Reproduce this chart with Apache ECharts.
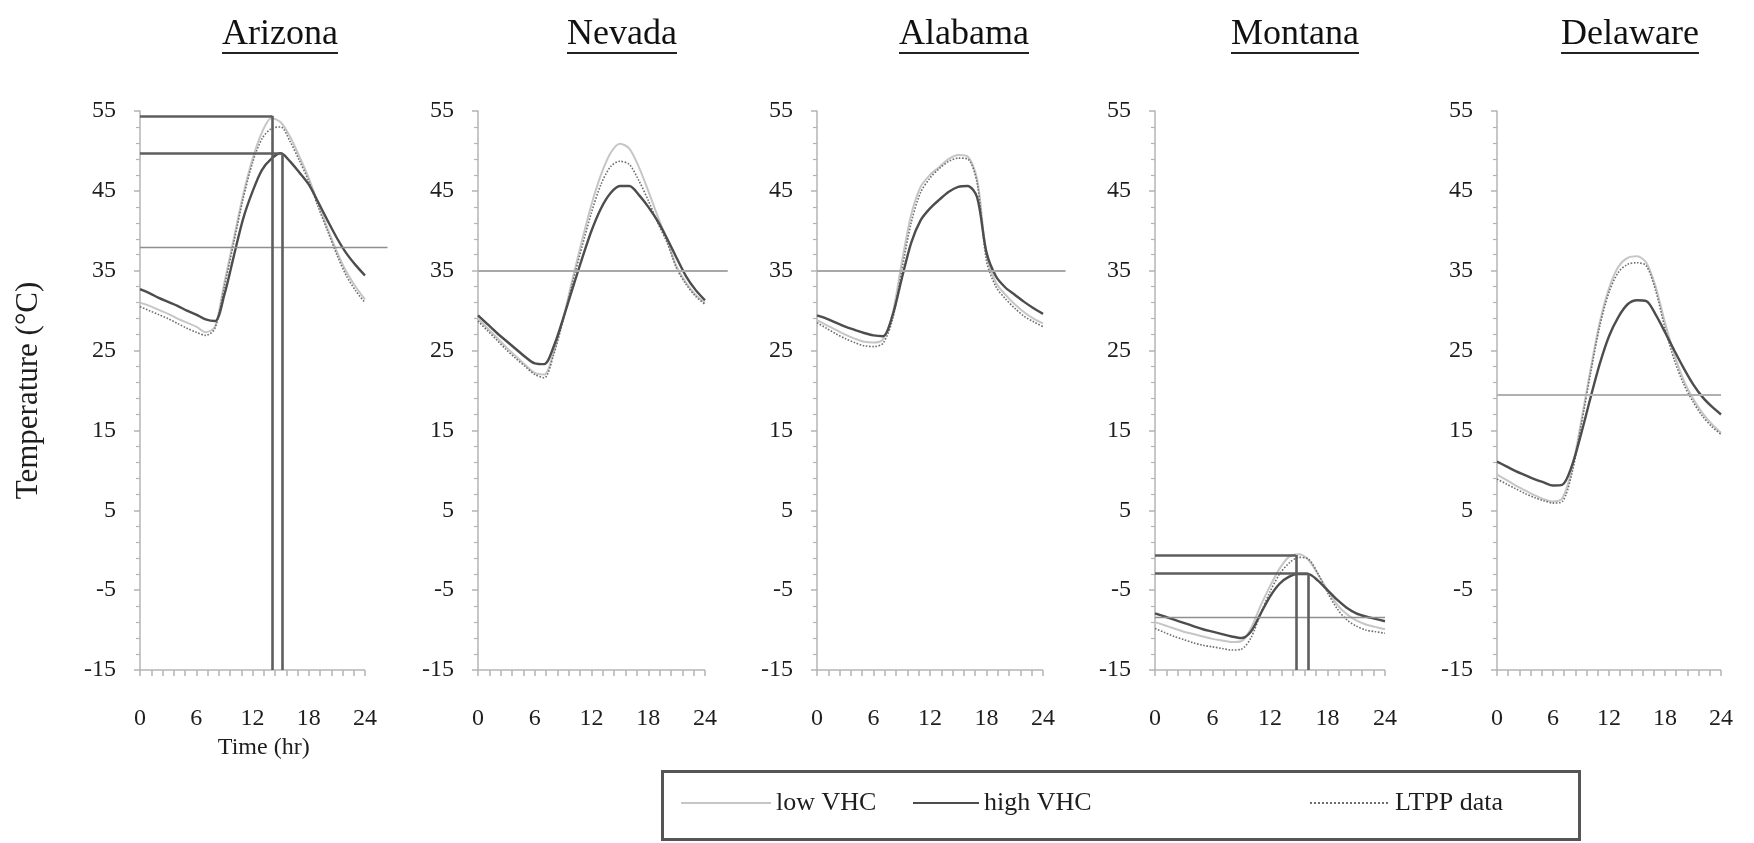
<!DOCTYPE html>
<html>
<head>
<meta charset="utf-8">
<script src="https://cdn.jsdelivr.net/npm/echarts@6/dist/echarts.min.js"></script>
<style>
  html, body { margin: 0; padding: 0; background: #fff; }
  #chart { width: 1754px; height: 843px; }
</style>
</head>
<body>
<div id="chart"></div>
<script>
// ---- data ---------------------------------------------------------------
const hours = [0, 1, 2, 3, 4, 5, 6, 7, 8, 9, 10, 11, 12, 13, 14, 15, 16, 17, 18, 19, 20, 21, 22, 23, 24];

const states = ['Arizona', 'Nevada', 'Alabama', 'Montana', 'Delaware'];

const arizonaLow  = [31.0, 30.6, 30.1, 29.6, 29.0, 28.5, 28.0, 27.3, 28.0, 33.5, 39.0, 44.5, 49.0, 52.3, 54.1, 53.6, 51.8, 49.3, 46.6, 43.4, 40.3, 37.4, 34.9, 33.0, 31.4];
const arizonaHigh = [32.7, 32.2, 31.6, 31.1, 30.6, 30.0, 29.5, 28.9, 28.7, 32.0, 36.8, 41.5, 44.9, 47.6, 49.0, 49.7, 48.7, 47.3, 45.8, 43.6, 41.3, 39.1, 37.2, 35.7, 34.4];
const arizonaLTPP = [30.5, 30.0, 29.5, 29.0, 28.4, 27.8, 27.3, 26.9, 27.8, 33.0, 38.5, 44.0, 48.5, 51.5, 52.8, 53.0, 51.2, 48.8, 46.2, 43.0, 40.0, 37.0, 34.4, 32.5, 31.0];

const nevadaLow  = [29.0, 27.8, 26.6, 25.4, 24.3, 23.2, 22.2, 22.0, 24.8, 29.0, 34.0, 38.8, 43.3, 47.0, 49.7, 50.9, 50.3, 48.0, 45.0, 41.8, 38.8, 35.5, 33.5, 32.0, 31.0];
const nevadaHigh = [29.4, 28.3, 27.2, 26.2, 25.2, 24.2, 23.4, 23.3, 25.5, 29.0, 32.8, 36.5, 40.0, 42.8, 44.7, 45.6, 45.6, 44.5, 43.0, 41.2, 39.0, 36.6, 34.3, 32.6, 31.3];
const nevadaLTPP = [28.7, 27.5, 26.3, 25.1, 24.0, 23.0, 22.0, 21.6, 24.5, 28.8, 33.5, 38.0, 42.3, 45.8, 48.0, 48.7, 48.3, 46.3, 43.8, 41.0, 38.5, 35.3, 33.3, 31.8, 30.8];

const alabamaLow  = [28.8, 28.2, 27.6, 27.0, 26.5, 26.1, 26.0, 26.4, 29.5, 36.0, 42.0, 45.5, 47.0, 48.0, 49.0, 49.5, 49.3, 46.5, 37.0, 33.5, 32.0, 30.8, 29.8, 29.0, 28.4];
const alabamaHigh = [29.4, 29.0, 28.5, 28.0, 27.6, 27.2, 26.9, 26.8, 29.3, 34.0, 38.5, 41.3, 42.8, 43.9, 44.9, 45.5, 45.6, 44.2, 37.3, 34.3, 32.9, 32.0, 31.1, 30.3, 29.6];
const alabamaLTPP = [28.5, 27.8, 27.1, 26.5, 26.0, 25.6, 25.5, 25.9, 28.8, 35.0, 41.0, 44.8, 46.6, 47.8, 48.7, 49.1, 49.0, 46.0, 36.2, 33.0, 31.5, 30.3, 29.3, 28.6, 28.0];

const montanaLow  = [-9.0, -9.4, -9.8, -10.2, -10.5, -10.8, -11.1, -11.3, -11.5, -11.4, -9.8, -7.0, -4.5, -2.3, -0.8, -0.5, -1.2, -3.0, -5.0, -6.8, -8.0, -8.8, -9.3, -9.6, -9.9];
const montanaHigh = [-7.9, -8.3, -8.7, -9.1, -9.5, -9.9, -10.2, -10.5, -10.8, -11.0, -10.2, -8.0, -5.8, -4.2, -3.3, -3.0, -3.0, -3.8, -5.0, -6.2, -7.2, -7.9, -8.3, -8.6, -8.9];
const montanaLTPP = [-9.8, -10.3, -10.8, -11.2, -11.6, -11.9, -12.1, -12.3, -12.5, -12.4, -11.0, -8.0, -5.2, -3.0, -1.6, -0.9, -1.1, -2.9, -5.3, -7.3, -8.7, -9.5, -10.0, -10.2, -10.4];

const delawareLow  = [9.5, 8.8, 8.1, 7.5, 6.9, 6.4, 6.1, 6.5, 10.0, 16.0, 22.5, 28.5, 32.8, 35.5, 36.6, 36.8, 36.0, 33.0, 28.5, 24.5, 21.3, 19.0, 17.2, 15.8, 14.7];
const delawareHigh = [11.1, 10.5, 9.9, 9.4, 8.9, 8.5, 8.1, 8.2, 10.5, 14.5, 19.0, 23.3, 26.8, 29.2, 30.8, 31.3, 31.2, 29.5, 27.3, 25.0, 22.8, 20.8, 19.2, 18.0, 17.0];
const delawareLTPP = [8.9, 8.3, 7.7, 7.1, 6.6, 6.2, 5.9, 6.1, 9.5, 15.5, 22.0, 28.0, 32.3, 34.8, 35.8, 36.0, 35.6, 32.5, 27.8, 23.8, 20.8, 18.6, 16.8, 15.5, 14.5];

const lowSeries  = [arizonaLow, nevadaLow, alabamaLow, montanaLow, delawareLow];
const highSeries = [arizonaHigh, nevadaHigh, alabamaHigh, montanaHigh, delawareHigh];
const ltppSeries = [arizonaLTPP, nevadaLTPP, alabamaLTPP, montanaLTPP, delawareLTPP];

// daily mean temperature of each site
const meanTemps = [38.0, 35.0, 35.0, -8.4, 19.5];

// daily maxima marked with drop lines (low VHC first, high VHC second)
const arizonaPeakHours = [14.1, 15.2];
const arizonaPeakTemps = [54.4, 49.7];
const montanaPeakHours = [14.7, 16.0];
const montanaPeakTemps = [-0.6, -2.9];

const xTickValues  = [0, 1.2, 2.4, 3.6, 4.8, 6, 7.2, 8.4, 9.6, 10.8, 12, 13.2, 14.4, 15.6, 16.8, 18, 19.2, 20.4, 21.6, 22.8, 24];
const xLabelValues = [0, 6, 12, 18, 24];
const yMin = -15, yMax = 55, yStep = 10;

const legendNames = ['low VHC', 'high VHC', 'LTPP data'];

// ---- layout -------------------------------------------------------------
const FONT = '"Liberation Serif", "Times New Roman", serif';
const gridTop = 111, gridBottom = 173;
const panelLeft    = [140, 478, 817, 1155, 1497];
const panelWidth24 = [225, 227, 226, 230, 224];   // width of the 0–24 h span
const panelXMax    = [26.4, 26.4, 26.4, 24, 24];
const titleCenter  = [280, 622, 964, 1295, 1630];

const axisGrey = '#b4b4b4';
const lowStyle  = { color: '#c6c6c6', width: 2, type: 'solid' };
const highStyle = { color: '#4d4d4d', width: 2.4, type: 'solid' };
const ltppStyle = { color: '#6e6e6e', width: 1.6, type: 'dotted' };
const meanStyles = [
  { color: '#8f8f8f', width: 1.4, type: 'solid' },
  { color: '#a8a8a8', width: 2, type: 'solid' },
  { color: '#a8a8a8', width: 2, type: 'solid' },
  { color: '#8f8f8f', width: 1.4, type: 'solid' },
  { color: '#b0b0b0', width: 2.2, type: 'solid' }
];

const chart = echarts.init(document.getElementById('chart'), null, { renderer: 'canvas' });

const grids = [], xAxes = [], yAxes = [], series = [];

states.forEach((state, i) => {
  const w = panelWidth24[i] * panelXMax[i] / 24;
  grids.push({ left: panelLeft[i], top: gridTop, width: w, bottom: gridBottom, containLabel: false });

  xAxes.push({
    gridIndex: i, type: 'value', min: 0, max: panelXMax[i],
    axisLine: { show: false, onZero: false },
    axisTick: { show: true, customValues: xTickValues, length: 6, lineStyle: { color: axisGrey, width: 1.5 } },
    axisLabel: { customValues: xLabelValues, margin: 37, fontFamily: FONT, fontSize: 24, color: '#1e1e1e' },
    splitLine: { show: false },
    name: i === 0 ? 'Time (hr)' : '',
    nameLocation: 'middle', nameGap: 64,
    nameTextStyle: { fontFamily: FONT, fontSize: 24, color: '#1e1e1e' }
  });

  yAxes.push({
    gridIndex: i, type: 'value', min: yMin, max: yMax, interval: yStep,
    axisLine: { show: true, onZero: false, lineStyle: { color: axisGrey, width: 1.5 } },
    axisTick: { show: true, length: 6, lineStyle: { color: axisGrey, width: 1.5 } },
    minorTick: { show: true, splitNumber: 5, length: 4, lineStyle: { color: axisGrey, width: 1.2 } },
    axisLabel: { margin: 24, fontFamily: FONT, fontSize: 24, color: '#1e1e1e' },
    splitLine: { show: false },
    minorSplitLine: { show: false },
    name: i === 0 ? 'Temperature (°C)' : '',
    nameLocation: 'middle', nameRotate: 90, nameGap: 96,
    nameTextStyle: { fontFamily: FONT, fontSize: 31, color: '#1e1e1e' }
  });

  const pts = arr => hours.map((h, k) => [h, arr[k]]);

  // reference lines: x baseline, daily mean, and peak drop lines
  const marks = [
    [{ coord: [0, yMin], lineStyle: { color: axisGrey, width: 1.5, type: 'solid' } }, { coord: [24, yMin] }],
    [{ coord: [0, meanTemps[i]], lineStyle: meanStyles[i] }, { coord: [panelXMax[i], meanTemps[i]] }]
  ];
  let peakH = null, peakT = null;
  if (state === 'Arizona') { peakH = arizonaPeakHours; peakT = arizonaPeakTemps; }
  if (state === 'Montana') { peakH = montanaPeakHours; peakT = montanaPeakTemps; }
  if (peakH) {
    peakH.forEach((h, k) => {
      const ls = { color: '#5e5e5e', width: 2.6, type: 'solid' };
      marks.push([{ coord: [0, peakT[k]], lineStyle: ls }, { coord: [h, peakT[k]] }]);
      marks.push([{ coord: [h, peakT[k]], lineStyle: ls }, { coord: [h, yMin] }]);
    });
  }

  series.push({
    type: 'line', name: 'LTPP data', xAxisIndex: i, yAxisIndex: i,
    data: pts(ltppSeries[i]), smooth: 0.3, symbol: 'none',
    lineStyle: ltppStyle, itemStyle: { color: ltppStyle.color }, z: 3, animation: false
  });
  series.push({
    type: 'line', name: 'low VHC', xAxisIndex: i, yAxisIndex: i,
    data: pts(lowSeries[i]), smooth: 0.3, symbol: 'none',
    lineStyle: lowStyle, itemStyle: { color: lowStyle.color }, z: 2, animation: false
  });
  series.push({
    type: 'line', name: 'high VHC', xAxisIndex: i, yAxisIndex: i,
    data: pts(highSeries[i]), smooth: 0.3, symbol: 'none',
    lineStyle: highStyle, itemStyle: { color: highStyle.color }, z: 4, animation: false,
    markLine: {
      silent: true, symbol: ['none', 'none'], label: { show: false }, animation: false,
      data: marks
    }
  });
});

// legend: one component per entry so each sits at its own place in the box
const legendLeft  = [680, 912, 1309];
const legendIconW = [90, 66, 80];
const legends = legendNames.map((name, k) => ({
  data: [name], left: legendLeft[k], top: 790, orient: 'horizontal',
  itemWidth: legendIconW[k], itemHeight: 14, padding: 0, selectedMode: false,
  itemStyle: { opacity: 0 },
  textStyle: { fontFamily: FONT, fontSize: 26, color: '#1e1e1e' }
}));

// state names, underlined
const measureCtx = document.createElement('canvas').getContext('2d');
const titleFont = '36px ' + FONT;
measureCtx.font = titleFont;
const titleGraphics = [];
states.forEach((state, i) => {
  const tw = measureCtx.measureText(state).width;
  titleGraphics.push({
    type: 'text', left: titleCenter[i] - tw / 2, top: 17,
    style: { text: state, font: titleFont, fill: '#111' }
  });
  titleGraphics.push({
    type: 'rect', left: titleCenter[i] - tw / 2, top: 52,
    shape: { width: tw, height: 2 }, style: { fill: '#222' }
  });
});

chart.setOption({
  backgroundColor: '#ffffff',
  animation: false,
  grid: grids,
  xAxis: xAxes,
  yAxis: yAxes,
  legend: legends,
  series: series,
  graphic: titleGraphics.concat([{
    type: 'rect', left: 660, top: 769,
    shape: { width: 917, height: 68 },
    style: { fill: 'none', stroke: '#555', lineWidth: 3 }, z: -1
  }])
});
</script>
</body>
</html>
